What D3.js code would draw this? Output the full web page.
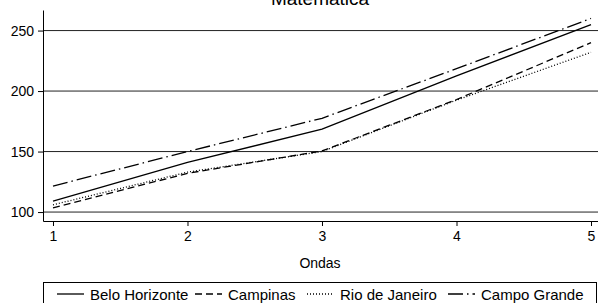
<!DOCTYPE html>
<html>
<head>
<meta charset="utf-8">
<script src="https://cdn.jsdelivr.net/npm/d3@7"></script>
<style>
  body { margin: 0; background: #fff; }
  text { font-family: "Liberation Sans", Arial, sans-serif; fill: #000; }
</style>
</head>
<body>
<div id="app"></div>
<script>
const ondas = [1, 2, 3, 4, 5];
const beloHorizonte = [109, 141, 168.5, 212.5, 255];
const campinas = [103.5, 132, 150.5, 193, 240];
const rioDeJaneiro = [106, 133, 150, 192.5, 232];
const campoGrande = [121.5, 150, 177.5, 218.5, 260];
const yTicks = [100, 150, 200, 250];
const seriesNames = ["Belo Horizonte", "Campinas", "Rio de Janeiro", "Campo Grande"];

const w = 598, h = 303;
const dashes = ["none", "7,4", "1,2", "15,4,1.5,4"];
const series = [beloHorizonte, campinas, rioDeJaneiro, campoGrande];

const svg = d3.select("#app")
    .append("svg")
    .attr("width", w)
    .attr("height", h)
    .style("display", "block");

const xScale = d3.scaleLinear()
    .domain([0.9257, 5.052])
    .range([43, 598]);

const yScale = d3.scaleLinear()
    .domain([92.6, 267])
    .range([221, 10]);

// grid lines
svg.append("g")
    .selectAll("line")
    .data(yTicks)
    .enter()
    .append("line")
    .attr("x1", 43)
    .attr("x2", w)
    .attr("y1", d => yScale(d))
    .attr("y2", d => yScale(d))
    .attr("stroke", "#222")
    .attr("stroke-width", 1);

const yAxis = d3.axisLeft(yScale).tickValues(yTicks).tickSize(5).tickSizeOuter(0).tickPadding(4);
const xAxis = d3.axisBottom(xScale).tickValues(ondas).tickFormat(d3.format("d"))
    .tickSize(5).tickSizeOuter(0).tickPadding(5);

const gy = svg.append("g")
    .attr("transform", "translate(43,0)")
    .call(yAxis);
const gx = svg.append("g")
    .attr("transform", "translate(0,221)")
    .call(xAxis);

[gx, gy].forEach(g => {
    g.selectAll("path, line").attr("stroke", "#000");
    g.selectAll("text").style("font-size", "14px").style("font-family", "Liberation Sans, Arial, sans-serif").attr("fill", "#000");
});

const line = d3.line()
    .x((d, i) => xScale(ondas[i]))
    .y(d => yScale(d));

svg.append("g")
    .selectAll("path")
    .data(series)
    .enter()
    .append("path")
    .attr("d", d => line(d))
    .attr("fill", "none")
    .attr("stroke", "#000")
    .attr("stroke-width", 1.3)
    .attr("stroke-dasharray", (d, i) => dashes[i]);

svg.append("text")
    .attr("x", 320)
    .attr("y", 5)
    .attr("text-anchor", "middle")
    .style("font-size", "19px")
    .text("Matemática");

svg.append("text")
    .attr("x", 320)
    .attr("y", 268)
    .attr("text-anchor", "middle")
    .style("font-size", "14px")
    .text("Ondas");

// legend
const legend = svg.append("g");
legend.append("rect")
    .attr("x", 43.5)
    .attr("y", 282.5)
    .attr("width", 553)
    .attr("height", 30)
    .attr("fill", "#fff")
    .attr("stroke", "#000");

const keyStarts = [57, 195, 307, 448];
const keyLen = 27;
seriesNames.forEach((name, i) => {
    legend.append("line")
        .attr("x1", keyStarts[i])
        .attr("x2", keyStarts[i] + keyLen)
        .attr("y1", 294)
        .attr("y2", 294)
        .attr("stroke", "#000")
        .attr("stroke-width", 1.3)
        .attr("stroke-dasharray", dashes[i]);
    legend.append("text")
        .attr("x", keyStarts[i] + keyLen + 6)
        .attr("y", 299.5)
        .style("font-size", "15px")
        .text(name);
});
</script>
</body>
</html>
